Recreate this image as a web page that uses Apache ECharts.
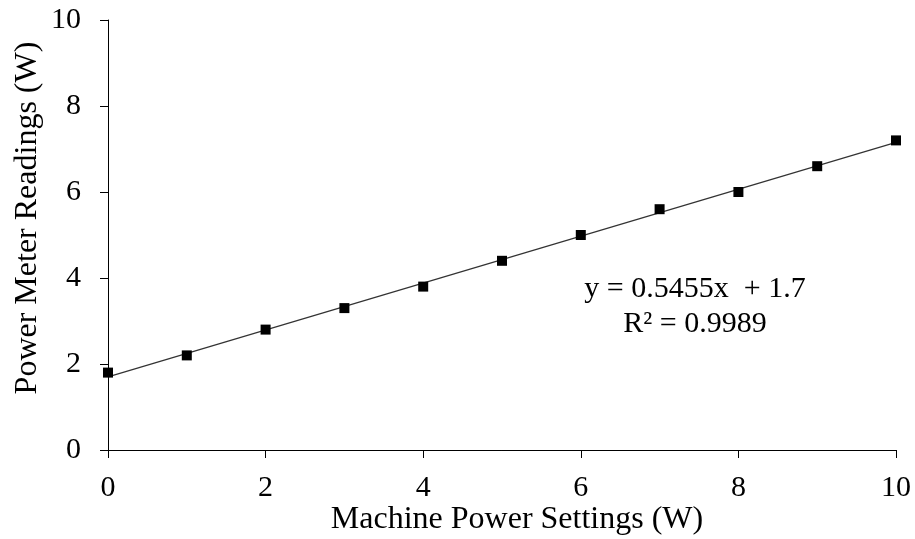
<!DOCTYPE html>
<html><head><meta charset="utf-8">
<script src="https://cdn.jsdelivr.net/npm/echarts@6/dist/echarts.min.js"></script>
<style>html,body{margin:0;padding:0;background:#fff}#c{width:915px;height:539px}</style>
</head><body><div id="c"></div>
<script>
const xValues = [0, 1, 2, 3, 4, 5, 6, 7, 8, 9, 10];
const yValues = [1.8, 2.2, 2.8, 3.3, 3.8, 4.4, 5.0, 5.6, 6.0, 6.6, 7.2];
const slope = 0.5455, intercept = 1.7;
const trendX = [0, 10];
const equationLines = ['y = 0.5455x  + 1.7', 'R² = 0.9989'];
const xTitle = 'Machine Power Settings (W)';
const yTitle = 'Power Meter Readings (W)';

const font = '"Liberation Serif", "Times New Roman", serif';
const chart = echarts.init(document.getElementById('c'), null, {renderer: 'canvas'});
const axisCommon = {
  min: 0, max: 10, interval: 2,
  axisLine: {show: true, onZero: false, lineStyle: {color: '#000', width: 1}},
  axisTick: {show: true, inside: false, length: 8, lineStyle: {color: '#000'}},
  splitLine: {show: false},
  axisLabel: {color: '#000', fontFamily: font, fontSize: 30}
};
chart.setOption({
  animation: false,
  grid: {left: 108, right: 19, top: 20, bottom: 89, containLabel: false},
  xAxis: Object.assign({}, axisCommon, {type: 'value',
    axisLabel: Object.assign({}, axisCommon.axisLabel, {margin: 23})}),
  yAxis: Object.assign({}, axisCommon, {type: 'value',
    axisLabel: Object.assign({}, axisCommon.axisLabel, {margin: 27})}),
  series: [
    {type: 'line', data: trendX.map(x => [x, slope * x + intercept]), symbol: 'none',
     lineStyle: {color: '#333', width: 1.2}, silent: true, z: 2},
    {type: 'scatter', data: xValues.map((x, i) => [x, yValues[i]]), symbol: 'rect', symbolSize: 10,
     itemStyle: {color: '#000', opacity: 1}, z: 3}
  ],
  graphic: [
    {type: 'text', x: 695, y: 272, style: {text: equationLines.join('\n'), font: '30px ' + font,
      fill: '#000', align: 'center', textAlign: 'center', lineHeight: 35}},
    {type: 'text', x: 517, y: 520, style: {text: xTitle, font: '32px ' + font, fill: '#000',
      align: 'center', verticalAlign: 'middle'}},
    {type: 'text', x: 28, y: 218, rotation: Math.PI / 2, style: {text: yTitle, font: '32px ' + font, fill: '#000',
      align: 'center', verticalAlign: 'middle'}}
  ]
});
</script></body></html>
